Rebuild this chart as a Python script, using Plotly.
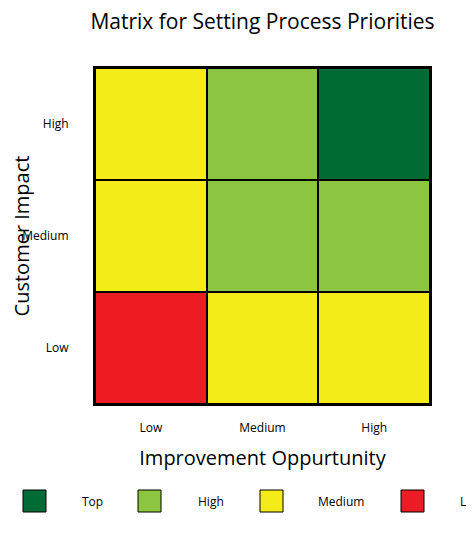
import plotly.graph_objects as go

x_labels = ["Low", "Medium", "High"]
y_labels = ["Low", "Medium", "High"]
# priority level: 0=Low, 1=Medium, 2=High, 3=Top ; rows from Low to High impact
levels = [[0, 1, 1],
          [1, 2, 2],
          [1, 2, 3]]
legend_names = ["Top", "High", "Medium", "Low"]
legend_levels = [3, 2, 1, 0]
colors = ["#ec1c24", "#f3ec19", "#8cc540", "#006b35"]

cs = []
for i, c in enumerate(colors):
    cs += [[i / 4, c], [(i + 1) / 4, c]]

fig = go.Figure(go.Heatmap(z=levels, x=x_labels, y=y_labels, zmin=-0.5, zmax=3.5,
                           colorscale=cs, showscale=False, xgap=2, ygap=2, hoverinfo="skip"))

font = "Open Sans, Liberation Sans, sans-serif"
W, H, L, R, T, B = 474, 540, 87, 52, 60, 144
pw, ph = W - L - R, H - T - B

def px(x): return (x - L) / pw
def py(y): return (H - B - y) / ph

shapes, annos = [], []
legend_x = [15, 130, 252, 393]
label_x = [84, 203, 333, 463]
for i, (name, lv) in enumerate(zip(legend_names, legend_levels)):
    shapes.append(dict(type="rect", xref="paper", yref="paper", x0=px(legend_x[i]), x1=px(legend_x[i] + 23),
                       y0=py(504), y1=py(482), fillcolor=colors[lv], line=dict(color="black", width=1)))
    annos.append(dict(text=name, xref="paper", yref="paper", x=px(label_x[i]), y=py(493), showarrow=False,
                      xanchor="center", yanchor="middle", font=dict(size=12, color="black")))

fig.update_layout(
    width=W, height=H, margin=dict(l=L, r=R, t=T, b=B, autoexpand=False),
    plot_bgcolor="black", paper_bgcolor="white", font=dict(family=font, color="black"),
    title=dict(text="Matrix for Setting Process Priorities", x=0.5, xanchor="center",
               xref="paper", y=1 - 14 / H, yanchor="middle", font=dict(size=21)),
    xaxis=dict(showgrid=False, ticks="", tickfont=dict(size=12), mirror=True, showline=True,
               linecolor="black", linewidth=2, ticklabelstandoff=12, automargin=False,
               title=dict(text="Improvement Oppurtunity", font=dict(size=20), standoff=16)),
    yaxis=dict(showgrid=False, ticks="", tickfont=dict(size=12), mirror=True, showline=True,
               linecolor="black", linewidth=2, ticklabelstandoff=22, automargin=False,
               title=dict(text="Customer Impact", font=dict(size=20), standoff=12)),
    shapes=shapes, annotations=annos,
)
fig.write_html("out.html")
